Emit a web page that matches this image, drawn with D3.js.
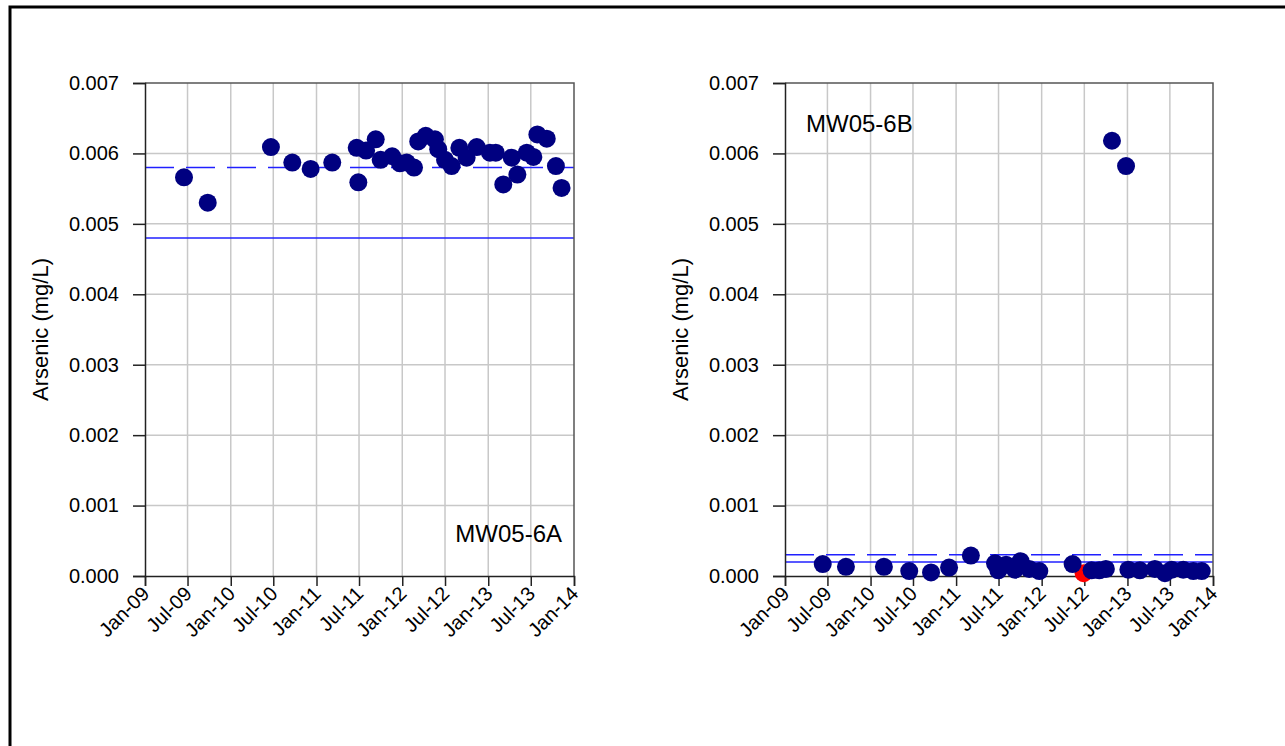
<!DOCTYPE html>
<html>
<head>
<meta charset="utf-8">
<script src="https://cdn.jsdelivr.net/npm/d3@7"></script>
<style>
  html, body { margin: 0; padding: 0; background: #fff; }
  svg { display: block; font-family: "Liberation Sans", Arial, sans-serif; }
</style>
</head>
<body>
<svg id="chart" width="1285" height="746"></svg>
<script>
// Sampling dates and arsenic concentrations (mg/L) for each well
const datesA = ["2009-06-16","2009-09-25","2010-06-21","2010-09-20","2010-12-07","2011-03-09",
  "2011-06-21","2011-06-28","2011-07-31","2011-09-10","2011-10-01","2011-11-19","2011-12-22",
  "2012-01-20","2012-02-20","2012-03-09","2012-04-10","2012-05-19","2012-06-02","2012-07-01",
  "2012-07-29","2012-08-31","2012-10-01","2012-11-13","2013-01-08","2013-02-02","2013-03-06",
  "2013-04-11","2013-05-05","2013-06-14","2013-07-12","2013-07-29","2013-09-07","2013-10-16",
  "2013-11-09"];
const valuesA = [0.00566, 0.0053, 0.00609, 0.00587, 0.00578, 0.00587,
  0.00608, 0.00559, 0.00604, 0.0062, 0.00591, 0.00596, 0.00586,
  0.00587, 0.0058, 0.00617, 0.00625, 0.0062, 0.00606, 0.00591,
  0.00582, 0.00608, 0.00594, 0.00609, 0.00601, 0.00601, 0.00556,
  0.00594, 0.0057, 0.00601, 0.00595, 0.00627, 0.00621, 0.00582,
  0.00551];

const datesB = ["2009-06-11","2009-09-18","2010-02-27","2010-06-15","2010-09-16","2010-12-02",
  "2011-03-05","2011-06-16","2011-06-30","2011-08-02","2011-09-09","2011-10-03","2011-11-09",
  "2011-12-22","2012-05-12","2012-08-01","2012-09-03","2012-10-01","2012-10-27","2012-12-26",
  "2013-01-05","2013-02-23","2013-04-28","2013-06-10","2013-07-09","2013-08-27","2013-10-09",
  "2013-11-14"];
const valuesB = [0.00017, 0.00013, 0.00013, 0.00007, 0.00005, 0.00012,
  0.00029, 0.00018, 0.00008, 0.00016, 0.00009, 0.00021, 0.0001,
  0.00007, 0.00017, 0.00008, 0.00008, 0.0001, 0.00618, 0.00582,
  0.00009, 0.00008, 0.0001, 0.00004, 0.00009, 0.00009, 0.00007,
  0.00007];
// Non-detect result (plotted in red)
const datesBnd = ["2012-06-28"];
const valuesBnd = [0.00004];

// Reference levels: dashed upper line, solid lower line
const refA = { dashed: 0.0058, solid: 0.0048 };
const refB = { dashed: 0.0003, solid: 0.0002 };

const wellNames = ["MW05-6A", "MW05-6B"];
const yLabel = "Arsenic (mg/L)";
const yTicks = [0, 0.001, 0.002, 0.003, 0.004, 0.005, 0.006, 0.007];
const xStart = "2009-01-01", xEnd = "2014-01-01";

const parse = d3.timeParse("%Y-%m-%d");
const svg = d3.select("#chart");

// outer border
svg.append("rect").attr("x", 10).attr("y", 7).attr("width", 1400).attr("height", 900)
  .attr("fill", "none").attr("stroke", "#000").attr("stroke-width", 3);

const xTicks = d3.timeMonth.every(6).range(parse(xStart), d3.timeDay.offset(parse(xEnd), 1));
const fmtX = d3.timeFormat("%b-%y");

function panel(opts) {
  const { left, right, top, bottom } = opts;
  const x = d3.scaleTime().domain([parse(xStart), parse(xEnd)]).range([left, right]);
  const y = d3.scaleLinear().domain([0, 0.007]).range([bottom, top]);
  const g = svg.append("g");

  // grid
  g.append("g").selectAll("line").data(xTicks.slice(1, -1)).join("line")
    .attr("x1", d => x(d)).attr("x2", d => x(d)).attr("y1", top).attr("y2", bottom)
    .attr("stroke", "#c8c8c8").attr("stroke-width", 1.5);
  g.append("g").selectAll("line").data(yTicks.slice(1, -1)).join("line")
    .attr("x1", left).attr("x2", right).attr("y1", d => y(d)).attr("y2", d => y(d))
    .attr("stroke", "#c8c8c8").attr("stroke-width", 1.5);

  // reference lines
  g.append("line").attr("x1", left).attr("x2", right)
    .attr("y1", y(opts.ref.solid)).attr("y2", y(opts.ref.solid))
    .attr("stroke", "#2020ff").attr("stroke-width", 1.5);
  g.append("line").attr("x1", left).attr("x2", right)
    .attr("y1", y(opts.ref.dashed)).attr("y2", y(opts.ref.dashed))
    .attr("stroke", "#2020ff").attr("stroke-width", 1.5).attr("stroke-dasharray", "29,12");

  // frame top/right
  g.append("path").attr("d", `M${left},${top}H${right}V${bottom}`)
    .attr("fill", "none").attr("stroke", "#555").attr("stroke-width", 1.5);

  // axes
  const yAxis = g.append("g").attr("transform", `translate(${left},0)`)
    .call(d3.axisLeft(y).tickValues(yTicks).tickFormat(d3.format(".3f")).tickSize(12).tickPadding(14));
  const xAxis = g.append("g").attr("transform", `translate(0,${bottom})`)
    .call(d3.axisBottom(x).tickValues(xTicks).tickFormat(fmtX).tickSize(10));
  [yAxis, xAxis].forEach(a => {
    a.select(".domain").attr("stroke", "#222").attr("stroke-width", 1.5);
    a.selectAll(".tick line").attr("stroke", "#222").attr("stroke-width", 1.5);
    a.selectAll("text").attr("fill", "#000").style("font-size", "20px")
      .style("font-family", "'Liberation Sans', Arial, sans-serif");
  });
  xAxis.selectAll(".tick text")
    .attr("text-anchor", "end").attr("dy", null).attr("y", null)
    .attr("transform", "translate(5,19) rotate(-45)");

  // axis title
  g.append("text").attr("transform", `translate(${left - 97},${(top + bottom) / 2}) rotate(-90)`)
    .attr("text-anchor", "middle").style("font-size", "22px").text(yLabel);

  // points
  g.append("g").selectAll("circle").data(opts.nd || []).join("circle")
    .attr("cx", d => x(d.date)).attr("cy", d => y(d.value)).attr("r", 9).attr("fill", "#ff0000");
  g.append("g").selectAll("circle").data(opts.points).join("circle")
    .attr("cx", d => x(d.date)).attr("cy", d => y(d.value)).attr("r", 9).attr("fill", "#000080");

  // well name
  g.append("text").attr("x", opts.nameX).attr("y", opts.nameY)
    .attr("text-anchor", opts.nameAnchor).style("font-size", "24px").text(opts.name);
}

const zip = (ds, vs) => ds.map((d, i) => ({ date: parse(d), value: vs[i] }));

panel({ left: 145, right: 574, top: 83, bottom: 576,
  points: zip(datesA, valuesA), ref: refA, name: wellNames[0],
  nameX: 562, nameY: 542, nameAnchor: "end" });
panel({ left: 785, right: 1213, top: 83, bottom: 576,
  points: zip(datesB, valuesB), nd: zip(datesBnd, valuesBnd), ref: refB, name: wellNames[1],
  nameX: 806, nameY: 132, nameAnchor: "start" });
</script>
</body>
</html>
